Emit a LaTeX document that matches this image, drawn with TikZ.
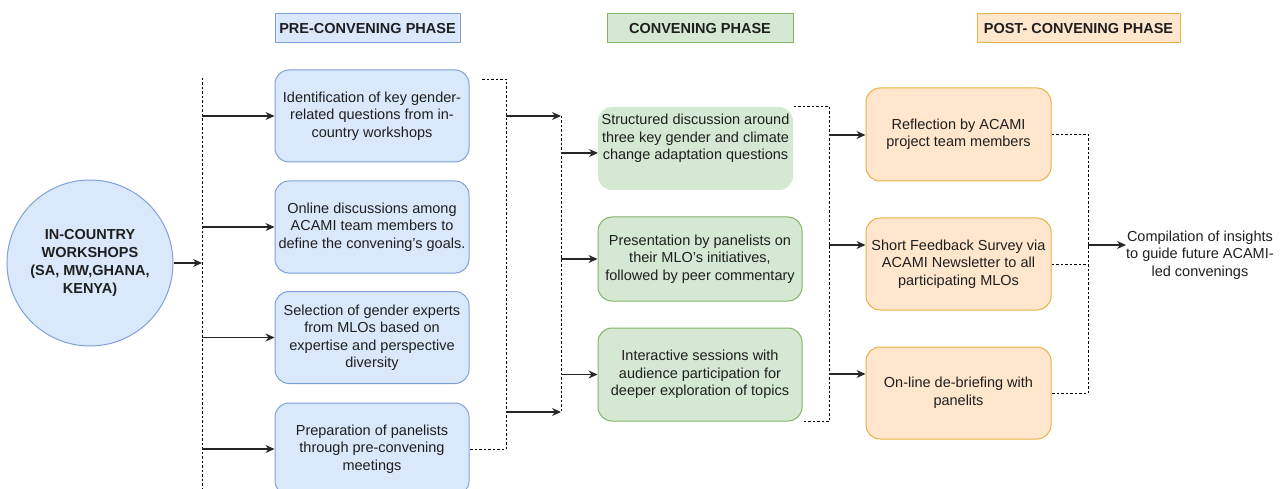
\documentclass[tikz,border=0pt]{standalone}
\usepackage{fontspec}
\setmainfont{Liberation Sans}
\usetikzlibrary{arrows.meta}

\definecolor{preFill}{HTML}{DAE8FC}
\definecolor{preLine}{HTML}{7EA1D6}
\definecolor{convFill}{HTML}{D5E8D4}
\definecolor{convLine}{HTML}{82B366}
\definecolor{postFill}{HTML}{FFE6CC}
\definecolor{postLine}{HTML}{E6B345}

\begin{document}
\begin{tikzpicture}[x=1pt, y=-1pt,
  every node/.style={font=\fontsize{14.5}{17.5}\selectfont, text=black!88},
  box/.style={rounded corners=14pt, line width=1pt, align=center, inner sep=0pt},
  phase/.style={line width=1pt, minimum height=29pt, inner sep=0pt,
    font=\fontsize{14.5}{17.5}\selectfont\bfseries},
  pre/.style={box, draw=preLine, fill=preFill, minimum width=194pt, minimum height=92pt},
  conv/.style={box, draw=convLine, fill=convFill, minimum width=204pt, minimum height=84pt},
  post/.style={box, draw=postLine, fill=postFill, minimum width=185pt, minimum height=92pt},
  link/.style={line width=1.2pt, draw=black!85, -{Stealth[length=9pt,width=8pt,inset=3pt]}},
  bus/.style={line width=0.9pt, dash pattern=on 2.5pt off 2pt}]

  % Fix the page to the reference size
  \useasboundingbox (0,0) rectangle (1288,489);

  % Phase headers
  \node[phase, draw=preLine, fill=preFill, minimum width=185pt] (hPre) at (367.5,28.5) {PRE-CONVENING PHASE};
  \node[phase, draw=convLine, fill=convFill, minimum width=186pt] (hConv) at (700,28.5) {CONVENING PHASE};
  \node[phase, draw=postLine, fill=postFill, minimum width=203pt] (hPost) at (1078.5,28.5) {POST- CONVENING PHASE};

  % Starting point
  \node[circle, draw=preLine, fill=preFill, line width=1pt, minimum size=166pt, inner sep=0pt,
    align=center, font=\fontsize{14.5}{18}\selectfont\bfseries] (ws) at (90,263)
    {IN-COUNTRY\\WORKSHOPS\\(SA, MW,GHANA,\\KENYA)};

  % Pre-convening steps
  \node[pre] (p1) at (372,116) {Identification of key gender-\\related questions from in-\\country workshops};
  \node[pre] (p2) at (372,227) {Online discussions among\\ACAMI team members to\\define the convening's goals.};
  \node[pre] (p3) at (372,337.5) {Selection of gender experts\\from MLOs based on\\expertise and perspective\\diversity};
  \node[pre] (p4) at (372,449) {Preparation of panelists\\through pre-convening\\meetings};

  % Convening steps
  \node[conv, draw=none, minimum width=195pt, minimum height=83pt] (c1) at (695.5,148.5)
    {Structured discussion around\\three key gender and climate\\change adaptation questions\\ \strut};
  \node[conv] (c2) at (700,259) {Presentation by panelists on\\their MLO's initiatives,\\followed by peer commentary};
  \node[conv, minimum height=93pt] (c3) at (700,374.5) {Interactive sessions with\\audience participation for\\deeper exploration of topics};

  % Post-convening steps
  \node[post, minimum height=93pt] (o1) at (958.5,134.5) {Reflection by ACAMI\\project team members};
  \node[post] (o2) at (958.5,264) {Short Feedback Survey via\\ACAMI Newsletter to all\\participating MLOs};
  \node[post] (o3) at (958.5,393) {On-line de-briefing with\\panelits};

  % Outcome
  \node[align=center, anchor=west, inner sep=0pt] (comp) at (1126,255)
    {Compilation of insights\\to guide future ACAMI-\\led convenings};

  % Bus from the workshops
  \coordinate (busA) at (202,78);
  \coordinate (busAend) at (202,489);
  \draw[bus] (busA) -- (busAend);
  \draw[link] (ws.east) -- (ws.east -| busA);
  \foreach \n in {p1,p2,p3,p4}
    \draw[link] (\n.west -| busA) -- (\n.west);

  % Bracket round the pre-convening steps
  \coordinate (preTop) at (482,79);
  \coordinate (preX) at (506,0);
  \draw[bus] (preTop) -- (preTop -| preX) -- (p4.east -| preX) -- (p4.east);
  \coordinate (busB1) at (561,116);
  \coordinate (busB2) at (561,412);
  \draw[bus] (busB1) -- (busB2);
  \draw[link] (busB1 -| preX) -- (busB1);
  \draw[link] (busB2 -| preX) -- (busB2);
  \draw[link] (c1.west -| busB1) ++(0,4.5) -- ++(37,0);
  \foreach \n in {c2,c3}
    \draw[link] (\n.west -| busB1) -- (\n.west);

  % Bracket round the convening steps
  \coordinate (convX) at (829,0);
  \draw[bus] (c1.north east) -- (c1.north east -| convX) -- (c3.south east -| convX) -- (c3.south east);
  \foreach \y [count=\i] in {135,245,374}
    \coordinate (q\i) at (829,\y);
  \foreach \i in {1,2,3}
    \draw[link] (q\i) -- (q\i -| o\i.west);

  % Bracket round the post-convening steps
  \coordinate (postX) at (1088,0);
  \draw[bus] (o1.east) -- (o1.east -| postX) -- (o3.east -| postX) -- (o3.east);
  \draw[bus] (o2.east) -- (o2.east -| postX);
  \coordinate (r) at (1088,245);
  \draw[link] (r) -- (r -| comp.west);
\end{tikzpicture}
\end{document}
